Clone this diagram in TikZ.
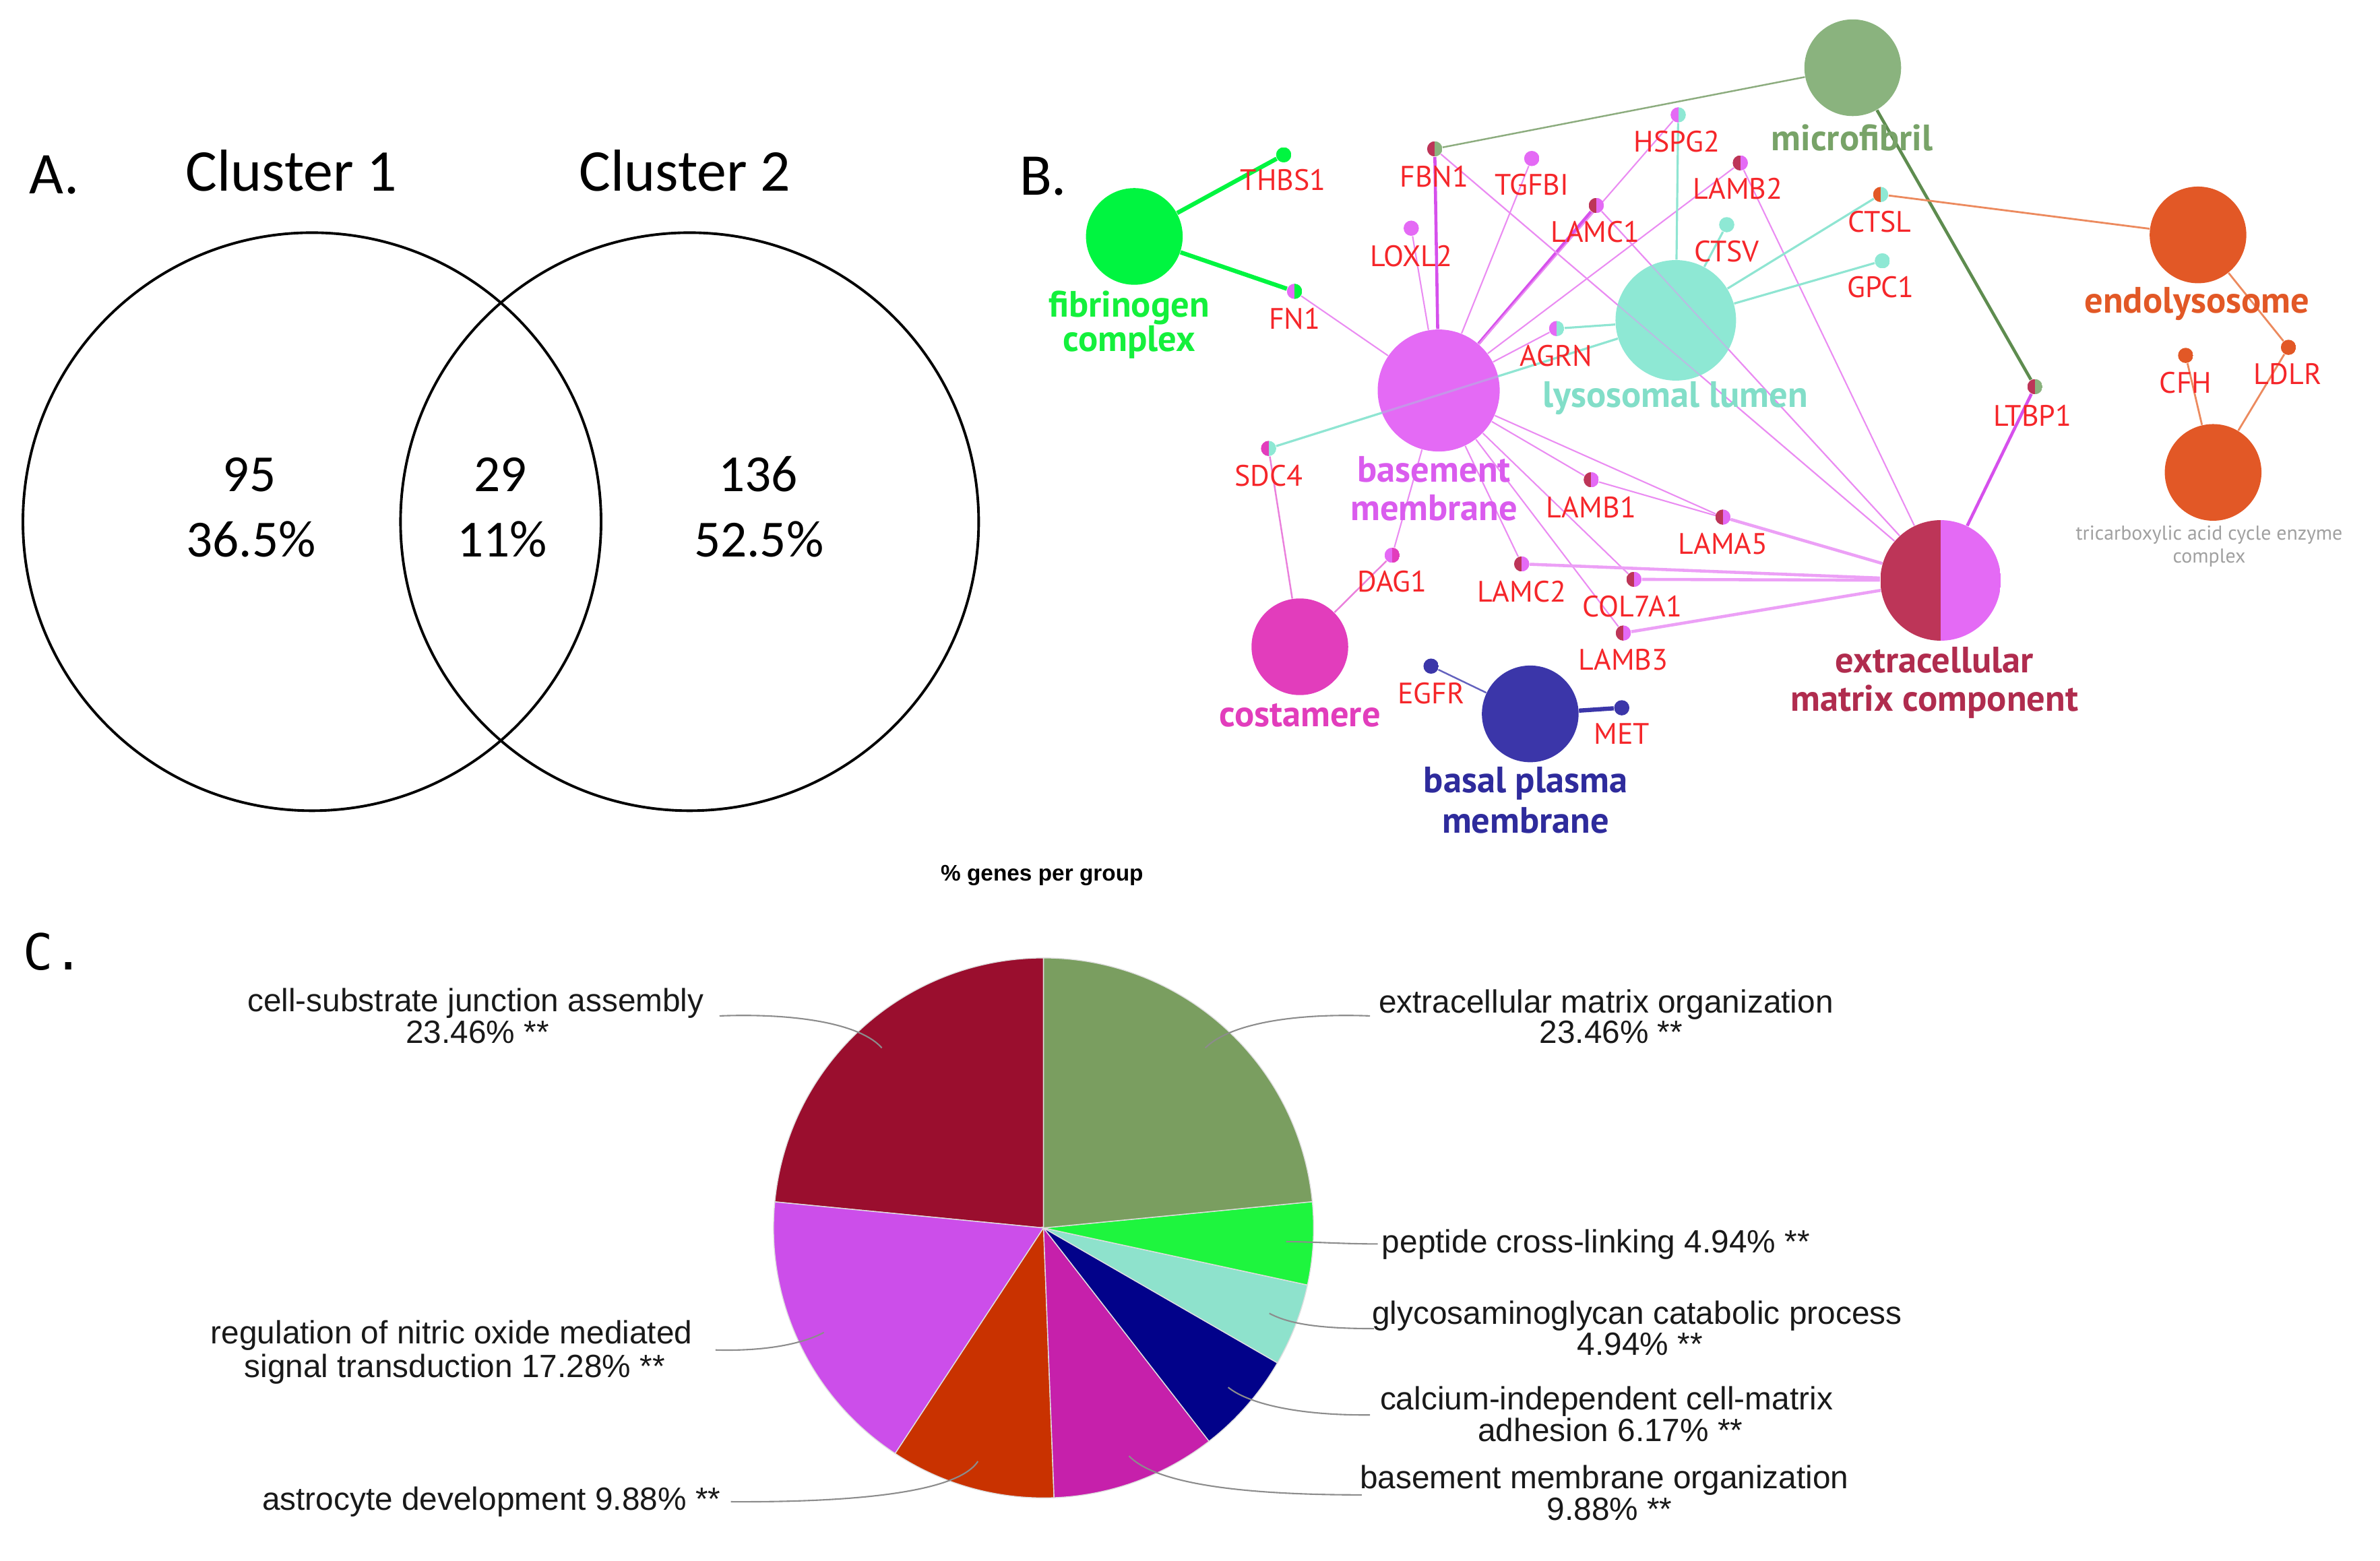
\documentclass[tikz,border=0pt]{standalone}
\usepackage{fontspec}
\newfontfamily\vennfont{Carlito}
\newfontfamily\netfont{PT Sans}
\newfontfamily\piefont{Liberation Sans}
\newfontfamily\monofont{DejaVu Sans Mono}
\pgfdeclarelayer{edges}
\pgfsetlayers{edges,main}
\definecolor{fibC}{RGB}{0,245,64}
\definecolor{fibL}{RGB}{20,240,60}
\definecolor{microC}{RGB}{138,179,126}
\definecolor{microL}{RGB}{120,163,104}
\definecolor{endoC}{RGB}{226,88,38}
\definecolor{lysoC}{RGB}{142,232,212}
\definecolor{lysoL}{RGB}{130,222,200}
\definecolor{bmC}{RGB}{228,106,245}
\definecolor{bmL}{RGB}{218,92,238}
\definecolor{costC}{RGB}{226,61,188}
\definecolor{basalC}{RGB}{59,54,169}
\definecolor{basalL}{RGB}{46,43,156}
\definecolor{ecmC}{RGB}{189,53,88}
\definecolor{ecmL}{RGB}{176,44,78}
\definecolor{gred}{RGB}{245,38,42}
\definecolor{tcaL}{RGB}{160,160,160}
\definecolor{eMag}{RGB}{234,140,242}
\definecolor{eMagT}{RGB}{214,80,236}
\definecolor{eMagL}{RGB}{236,160,246}
\definecolor{eAqua}{RGB}{143,229,210}
\definecolor{eMicroThin}{RGB}{140,172,126}
\definecolor{eMicroThick}{RGB}{94,140,79}
\definecolor{eOr}{RGB}{236,138,94}
\definecolor{eCost}{RGB}{234,128,220}
\definecolor{eInd}{RGB}{100,98,190}
\definecolor{pOlive}{RGB}{122,158,96}
\definecolor{pBGreen}{RGB}{30,245,62}
\definecolor{pAqua}{RGB}{142,226,204}
\definecolor{pNavy}{RGB}{2,2,138}
\definecolor{pMag}{RGB}{198,32,171}
\definecolor{pOr}{RGB}{201,50,0}
\definecolor{pPur}{RGB}{204,78,234}
\definecolor{pCrim}{RGB}{154,14,46}
\definecolor{leadC}{RGB}{140,140,140}
\definecolor{ptext}{RGB}{25,25,25}
\begin{document}
\begin{tikzpicture}[x=0.022641cm,y=-0.022641cm,
  term/.style={circle, inner sep=0, minimum size=1.435cm},
  gd/.style 2 args={circle, inner sep=0, minimum size=0.226cm,
    path picture={\fill[#1] (path picture bounding box.south west) rectangle (path picture bounding box.north);
                  \fill[#2] (path picture bounding box.south) rectangle (path picture bounding box.north east);}},
  glab/.style={text=gred, font=\netfont\fontsize{12.5}{14}\selectfont, inner sep=0},
  tlab/.style={font=\netfont\bfseries\fontsize{15.5}{18}\selectfont, inner sep=0, anchor=base},
  plab/.style={font=\piefont\fontsize{13.6}{16}\selectfont, text=ptext, inner sep=0, anchor=base},
  vtxt/.style={font=\vennfont\fontsize{22}{26}\selectfont, inner sep=0, anchor=base},
  vbig/.style={font=\vennfont\fontsize{25}{30}\selectfont, inner sep=0},
  vcirc/.style={draw=black, line width=1.1pt, circle, inner sep=0, minimum size=8.581cm},
  em/.style={draw=eMag, line width=0.6pt},
  emt/.style={draw=eMagT, line width=1.3pt},
  eml/.style={draw=eMagL, line width=1.3pt},
  ea/.style={draw=eAqua, line width=0.9pt},
  efib/.style={draw=fibC, line width=1.8pt},
  emi/.style={draw=eMicroThin, line width=0.7pt},
  emiT/.style={draw=eMicroThick, line width=1.3pt},
  eo/.style={draw=eOr, line width=0.8pt},
  ec/.style={draw=eCost, line width=0.7pt},
  eind/.style={draw=eInd, line width=0.7pt},
  eindT/.style={draw=basalC, line width=1.8pt},
  leader/.style={draw=leadC, line width=0.6pt}
]
\path[use as bounding box] (0,0) rectangle (1560,1023);

% ---------------- Panel A ----------------
\node[vbig, anchor=base west] (labA) at (19,126.8) {A.};
\node[vbig, anchor=base] (cl1) at (191,125) {Cluster 1};
\node[vbig, anchor=base] (cl2) at (449,125) {Cluster 2};
\node[vcirc] (vL) at (204.5,342) {};
\node[vcirc] (vR) at (452,342) {};
\node[vtxt] (n95) at (163.5,322) {95};
\node[vtxt] (p95) at (164.5,365) {36.5\%};
\node[vtxt] (n29) at (328,322) {29};
\node[vtxt] (p29) at (329,365) {11\%};
\node[vtxt] (n136) at (497,322) {136};
\node[vtxt] (p136) at (497.4,365) {52.5\%};

% ---------------- Panel B ----------------
\node[vbig, anchor=base west] (labB) at (668,128) {B.};

% term circles
\node[term, fill=fibC] (fib) at (743.5,155) {};
\node[term, fill=microC] (micro) at (1214.4,44.4) {};
\node[term, fill=endoC] (endo) at (1440.7,154) {};
\node[term, fill=endoC] (tca) at (1450.6,309.7) {};
\node[term, fill=lysoC, minimum size=1.789cm] (lyso) at (1098.4,210) {};
\node[term, fill=bmC, minimum size=1.811cm] (bm) at (943,256) {};
\node[term, fill=costC] (cost) at (852,424) {};
\node[term, fill=basalC] (basal) at (1003,468) {};
\node[gd={ecmC}{bmC}, minimum size=1.789cm] (ecm) at (1272,380.5) {};

% gene dots
\node[gd={fibC}{fibC}] (THBS1) at (841.4,101.5) {};
\node[gd={bmC}{fibC}] (FN1) at (848.5,191) {};
\node[gd={ecmC}{microC}] (FBN1) at (940.4,97.6) {};
\node[gd={bmC}{bmC}] (TGFBI) at (1004,103.9) {};
\node[gd={bmC}{lysoC}] (HSPG2) at (1100,75.3) {};
\node[gd={ecmC}{bmC}] (LAMB2) at (1140.7,106.8) {};
\node[gd={ecmC}{bmC}] (LAMC1) at (1046.3,134.7) {};
\node[gd={bmC}{bmC}] (LOXL2) at (925,149.6) {};
\node[gd={lysoC}{lysoC}] (CTSV) at (1131.8,147.3) {};
\node[gd={endoC}{lysoC}] (CTSL) at (1232.7,127.5) {};
\node[gd={lysoC}{lysoC}] (GPC1) at (1233.8,171) {};
\node[gd={bmC}{lysoC}] (AGRN) at (1020.3,215.4) {};
\node[gd={ecmC}{bmC}] (LAMB1) at (1043,314.5) {};
\node[gd={ecmC}{bmC}] (LAMA5) at (1129.3,339) {};
\node[gd={ecmC}{bmC}] (LAMC2) at (997.4,369.7) {};
\node[gd={ecmC}{bmC}] (COL7A1) at (1071,379.8) {};
\node[gd={bmC}{costC}] (DAG1) at (912.5,364) {};
\node[gd={ecmC}{bmC}] (LAMB3) at (1064,415) {};
\node[gd={costC}{lysoC}] (SDC4) at (831.5,294) {};
\node[gd={basalC}{basalC}] (EGFR) at (938,436.7) {};
\node[gd={basalC}{basalC}] (MET) at (1063,464) {};
\node[gd={ecmC}{microC}] (LTBP1) at (1333.8,253.5) {};
\node[gd={endoC}{endoC}] (CFH) at (1432.6,233) {};
\node[gd={endoC}{endoC}] (LDLR) at (1500,227.7) {};

% edges
\begin{pgfonlayer}{edges}
\draw[efib] (fib) -- (THBS1);
\draw[efib] (fib) -- (FN1);
\draw[em] (bm) -- (FN1);
\draw[em] (bm) -- (LOXL2);
\draw[emt] (bm) -- (FBN1);
\draw[em] (bm) -- (TGFBI);
\draw[emt] (bm) -- (LAMC1);
\draw[em] (bm) -- (HSPG2);
\draw[em] (bm) -- (LAMB2);
\draw[em] (bm) -- (AGRN);
\draw[em] (bm) -- (LAMB1);
\draw[em] (bm) -- (LAMA5);
\draw[em] (bm) -- (LAMC2);
\draw[em] (bm) -- (COL7A1);
\draw[em] (bm) -- (LAMB3);
\draw[em] (bm) -- (DAG1);
\draw[em] (FBN1) -- (ecm);
\draw[em] (LAMC1) -- (ecm);
\draw[em] (LAMB2) -- (ecm);
\draw[em] (LAMB1) -- (ecm);
\draw[eml] (LAMA5) -- (ecm);
\draw[eml] (LAMC2) -- (ecm);
\draw[eml] (COL7A1) -- (ecm);
\draw[eml] (LAMB3) -- (ecm);
\draw[emt] (LTBP1) -- (ecm);
\draw[ec] (SDC4) -- (cost);
\draw[ec] (DAG1) -- (cost);
\draw[ea] (lyso) -- (HSPG2);
\draw[ea] (lyso) -- (CTSV);
\draw[ea] (lyso) -- (CTSL);
\draw[ea] (lyso) -- (GPC1);
\draw[ea] (lyso) -- (AGRN);
\draw[ea] (lyso) -- (SDC4);
\draw[emi] (FBN1) -- (micro);
\draw[emiT] (LTBP1) -- (micro);
\draw[eo] (CTSL) -- (endo);
\draw[eo] (endo) -- (LDLR);
\draw[eo] (LDLR) -- (tca);
\draw[eo] (CFH) -- (tca);
\draw[eind] (basal) -- (EGFR);
\draw[eindT] (basal) -- (MET);
\end{pgfonlayer}
% edges seen faintly through circles they cross
\draw[em, draw opacity=0.45] (FBN1) -- (ecm);
\draw[em, draw opacity=0.45] (LAMC1) -- (ecm);
\draw[ea, draw opacity=0.35] (lyso) -- (SDC4);

% gene labels
\node[glab] (THBS1t) at (841,118) {THBS1};
\node[glab] (FN1t) at (848.5,209) {FN1};
\node[glab] (FBN1t) at (940,115.7) {FBN1};
\node[glab] (TGFBIt) at (1004,121) {TGFBI};
\node[glab] (HSPG2t) at (1099,92.6) {HSPG2};
\node[glab] (LAMB2t) at (1139,123.5) {LAMB2};
\node[glab] (LAMC1t) at (1045.6,151.8) {LAMC1};
\node[glab] (LOXL2t) at (925,167.7) {LOXL2};
\node[glab] (CTSVt) at (1131.8,164.7) {CTSV};
\node[glab] (CTSLt) at (1232,145.5) {CTSL};
\node[glab] (GPC1t) at (1232.7,188.4) {GPC1};
\node[glab] (AGRNt) at (1020,233.4) {AGRN};
\node[glab] (LAMB1t) at (1043,332.6) {LAMB1};
\node[glab] (LAMA5t) at (1129.3,356.3) {LAMA5};
\node[glab] (LAMC2t) at (997.4,387.8) {LAMC2};
\node[glab] (COL7A1t) at (1070,397.7) {COL7A1};
\node[glab] (DAG1t) at (912.5,381) {DAG1};
\node[glab] (LAMB3t) at (1064,432.5) {LAMB3};
\node[glab] (SDC4t) at (831.5,311.7) {SDC4};
\node[glab] (EGFRt) at (938,454.5) {EGFR};
\node[glab] (METt) at (1063,481) {MET};
\node[glab] (LTBP1t) at (1332.3,272.5) {LTBP1};
\node[glab] (CFHt) at (1432.6,251) {CFH};
\node[glab] (LDLRt) at (1499.5,245.4) {LDLR};

% term labels
\node[tlab, text=fibL] (fibt1) at (740,207.8) {fibrinogen};
\node[tlab, text=fibL] (fibt2) at (740,230.5) {complex};
\node[tlab, text=microL] (microt) at (1214,98.5) {microfibril};
\node[tlab, text=endoC] (endot) at (1440,205) {endolysosome};
\node[tlab, text=lysoL] (lysot) at (1098,267) {lysosomal lumen};
\node[tlab, text=bmL] (bmt1) at (940,316) {basement};
\node[tlab, text=bmL] (bmt2) at (940,341) {membrane};
\node[tlab, text=costC] (costt) at (852,476.5) {costamere};
\node[tlab, text=basalL] (basalt1) at (1000,519.5) {basal plasma};
\node[tlab, text=basalL] (basalt2) at (1000,546) {membrane};
\node[tlab, text=ecmL] (ecmt1) at (1268,441) {extracellular};
\node[tlab, text=ecmL] (ecmt2) at (1268,466) {matrix component};
\node[anchor=base, inner sep=0, text=tcaL, font=\netfont\fontsize{8.5}{10}\selectfont] (tcat1) at (1448,354) {tricarboxylic acid cycle enzyme};
\node[anchor=base, inner sep=0, text=tcaL, font=\netfont\fontsize{8.5}{10}\selectfont] (tcat2) at (1448,369) {complex};

% ---------------- Panel C ----------------
\node[anchor=base west, inner sep=0, font=\monofont\fontsize{21}{24}\selectfont] (labC) at (15,636) {C.};
\node[anchor=base, inner sep=0, font=\piefont\bfseries\fontsize{9.5}{11}\selectfont] (ptitle) at (683,577.6) {\% genes per group};

\begin{scope}[shift={(684,805)}, x=0.022641cm, y=0.022641cm]
  \begin{scope}[draw=white!75!gray, line width=0.4pt]
  \filldraw[fill=pCrim] (0,0) -- (90:177) arc[start angle=90, end angle=174.456, radius=177] -- cycle;
  \filldraw[fill=pPur] (0,0) -- (174.456:177) arc[start angle=174.456, end angle=236.664, radius=177] -- cycle;
  \filldraw[fill=pOr] (0,0) -- (236.664:177) arc[start angle=236.664, end angle=272.232, radius=177] -- cycle;
  \filldraw[fill=pMag] (0,0) -- (272.232:177) arc[start angle=272.232, end angle=307.8, radius=177] -- cycle;
  \filldraw[fill=pNavy] (0,0) -- (307.8:177) arc[start angle=307.8, end angle=330.012, radius=177] -- cycle;
  \filldraw[fill=pAqua] (0,0) -- (330.012:177) arc[start angle=330.012, end angle=347.796, radius=177] -- cycle;
  \filldraw[fill=pBGreen] (0,0) -- (347.796:177) arc[start angle=347.796, end angle=365.58, radius=177] -- cycle;
  \filldraw[fill=pOlive] (0,0) -- (5.58:177) arc[start angle=5.58, end angle=90, radius=177] -- cycle;
  \end{scope}
\end{scope}

% pie labels
\node[plab] (csj1) at (311.8,663.2) {cell-substrate junction assembly};
\node[plab] (csj2) at (313,684) {23.46\% **};
\node[plab] (ecmo1) at (1052.7,664) {extracellular matrix organization};
\node[plab] (ecmo2) at (1056,684) {23.46\% **};
\node[plab, anchor=base west] (pep) at (905.5,821.5) {peptide cross-linking 4.94\% **};
\node[plab] (gly1) at (1073,868) {glycosaminoglycan catabolic process};
\node[plab] (gly2) at (1075,888.6) {4.94\% **};
\node[plab] (cal1) at (1053,924) {calcium-independent cell-matrix};
\node[plab] (cal2) at (1055.6,944.8) {adhesion 6.17\% **};
\node[plab] (bmo1) at (1051.6,975.7) {basement membrane organization};
\node[plab] (bmo2) at (1055,996.6) {9.88\% **};
\node[plab] (reg1) at (296,881) {regulation of nitric oxide mediated};
\node[plab] (reg2) at (298,902.8) {signal transduction 17.28\% **};
\node[plab, anchor=base east] (ast) at (472.6,990) {astrocyte development 9.88\% **};

% leader lines
\coordinate (l1a) at (471.6,666);  \coordinate (l1b) at (578,687);
\coordinate (l2a) at (898,666);    \coordinate (l2b) at (790,687);
\coordinate (l3a) at (903,815.5);  \coordinate (l3b) at (843,814);
\coordinate (l4a) at (900.6,871);  \coordinate (l4b) at (832,861);
\coordinate (l5a) at (898,927.6);  \coordinate (l5b) at (805,909.5);
\coordinate (l6a) at (892.6,980);  \coordinate (l6b) at (740,954.5);
\coordinate (l7a) at (469,885);    \coordinate (l7b) at (540,873.5);
\coordinate (l8a) at (479,984.5);  \coordinate (l8b) at (641,958);
\draw[leader] (l1a) .. controls (525,664) and (565,672) .. (l1b);
\draw[leader] (l2a) .. controls (845,664) and (805,672) .. (l2b);
\draw[leader] (l3a) .. controls (880,815.5) and (860,814) .. (l3b);
\draw[leader] (l4a) .. controls (865,871) and (845,868) .. (l4b);
\draw[leader] (l5a) .. controls (850,928) and (818,920) .. (l5b);
\draw[leader] (l6a) .. controls (800,980) and (755,970) .. (l6b);
\draw[leader] (l7a) .. controls (505,886) and (528,880) .. (l7b);
\draw[leader] (l8a) .. controls (580,985) and (630,975) .. (l8b);
\end{tikzpicture}
\end{document}
